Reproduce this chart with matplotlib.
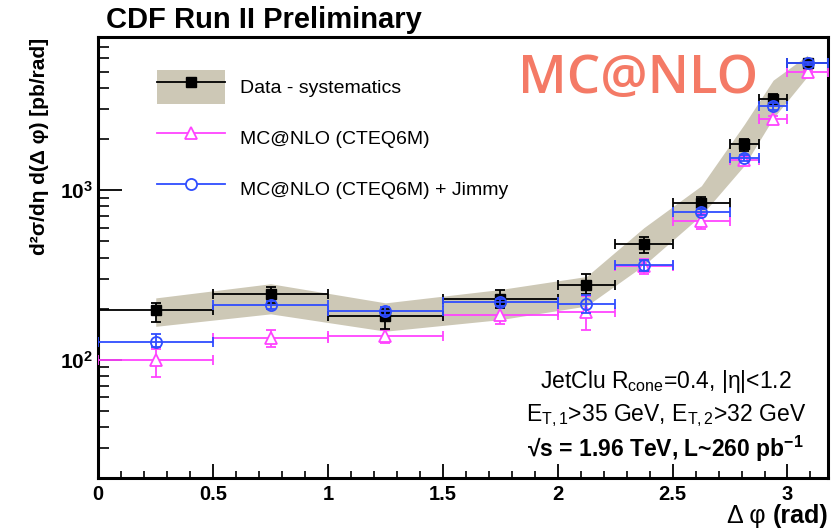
import numpy as np
import matplotlib
matplotlib.use("Agg")
import matplotlib.pyplot as plt
from matplotlib.patches import Patch
from matplotlib.lines import Line2D
from matplotlib.legend_handler import HandlerTuple
from matplotlib.ticker import FixedLocator, MultipleLocator, NullFormatter

plt.rcParams['font.family'] = ['Liberation Sans', 'DejaVu Sans']
plt.rcParams['mathtext.fontset'] = 'custom'
plt.rcParams['mathtext.rm'] = 'Liberation Sans'
plt.rcParams['mathtext.it'] = 'Liberation Sans:italic'
plt.rcParams['mathtext.bf'] = 'Liberation Sans:bold'
plt.rcParams['mathtext.sf'] = 'Liberation Sans'

# ---- data ----
bin_lo = [0.0, 0.5, 1.0, 1.5, 2.0, 2.25, 2.5, 2.75, 2.875, 3.0]
bin_hi = [0.5, 1.0, 1.5, 2.0, 2.25, 2.5, 2.75, 2.875, 3.0, 3.175]

data_y = [197, 242, 180, 229, 277, 482, 843, 1880, 3467, 5585]
data_err_up = [19, 26, 20, 28, 41, 49, 67, 115, 200, 150]
data_err_dn = [30, 26, 28, 27, 35, 59, 73, 180, 217, 150]
band_lo = [157, 186, 147, 172, 207, 360, 710, 1400, 2650, 4700]
band_hi = [231, 280, 216, 259, 309, 600, 1060, 2450, 4450, 6250]

mc_y = [99, 134, 137, 183, 191, 356, 656, 1496, 2642, 4980]
mc_err_up = [16, 16, 12, 19, 46, 34, 62, 94, 88, 120]
mc_err_dn = [20, 15, 11, 22, 41, 35, 70, 96, 142, 120]

jim_y = [127, 210, 193, 218, 214, 360, 745, 1553, 3133, 5585]
jim_err_up = [14, 11, 11, 10, 25, 28, 31, 60, 150, 130]
jim_err_dn = [8, 10, 11, 10, 25, 28, 35, 60, 150, 130]

x_ticks = [0, 0.5, 1, 1.5, 2, 2.5, 3]
x_tick_labels = ['0', '0.5', '1', '1.5', '2', '2.5', '3']
y_ticks = [100, 1000]
y_tick_labels = [r'10$^{\mathbf{2}}$', r'10$^{\mathbf{3}}$']

# ---- derived ----
lo = np.array(bin_lo); hi = np.array(bin_hi)
xc = (lo + hi) / 2.0
xerr = (hi - lo) / 2.0

pink = '#FF44FF'
blue = '#2F4DFF'
band_col = '#CDC8B6'

fig = plt.figure(figsize=(8.35, 5.29), dpi=100)
ax = fig.add_axes([98.3/835, 1-478/529, (827.7-98.3)/835, (478-37)/529])

ax.fill_between(xc, band_lo, band_hi, color=band_col, lw=0, zorder=1)

ax.errorbar(xc, mc_y, xerr=xerr, yerr=[mc_err_dn, mc_err_up], fmt='^',
            color=pink, mfc='white', mec=pink, ms=8, mew=1.3,
            elinewidth=1.3, capsize=3.5, capthick=1.3, zorder=3)
ax.errorbar(xc, data_y, xerr=xerr, yerr=[data_err_dn, data_err_up], fmt='s',
            color='black', ms=7, elinewidth=1.3, capsize=3.5, capthick=1.3, zorder=4)
ax.errorbar(xc, jim_y, xerr=xerr, yerr=[jim_err_dn, jim_err_up], fmt='o',
            color=blue, mfc='none', mec=blue, ms=8, mew=1.3,
            elinewidth=1.3, capsize=3.5, capthick=1.3, zorder=5)

ax.set_yscale('log')
ax.set_xlim(0, 3.175)
ax.set_ylim(20, 8000)

ax.xaxis.set_major_locator(FixedLocator(x_ticks))
ax.set_xticklabels(x_tick_labels, fontsize=14.5, fontweight='bold')
ax.xaxis.set_minor_locator(MultipleLocator(0.1))
ax.yaxis.set_major_locator(FixedLocator(y_ticks))
ax.set_yticklabels(y_tick_labels, fontsize=15, fontweight='bold')
ax.yaxis.set_minor_locator(FixedLocator([m * 10**e for e in (1, 2, 3) for m in range(2, 10)]))
ax.yaxis.set_minor_formatter(NullFormatter())

ax.tick_params(axis='both', which='both', direction='in', top=False, right=False)
ax.tick_params(axis='x', which='major', length=10, width=1.3, pad=5)
ax.tick_params(axis='x', which='minor', length=5, width=1.2)
ax.tick_params(axis='y', which='major', length=17, width=1.3, pad=4)
ax.tick_params(axis='y', which='minor', length=8, width=1.2)
for s in ax.spines.values():
    s.set_linewidth(2.2)

# legend
h_data = (Patch(facecolor=band_col, edgecolor='none'),
          Line2D([], [], color='black', marker='s', ms=7, lw=1.3))
h_mc = Line2D([], [], color=pink, marker='^', ms=8, mfc='white', mec=pink, mew=1.3, lw=1.3)
h_jim = Line2D([], [], color=blue, marker='o', ms=8, mfc='white', mec=blue, mew=1.3, lw=1.3)
fig.legend([h_data, h_mc, h_jim],
           ['Data - systematics', 'MC@NLO (CTEQ6M)', 'MC@NLO (CTEQ6M) + Jimmy'],
           handler_map={tuple: HandlerTuple(ndivide=1)},
           loc='upper left', bbox_to_anchor=(157/835, 1-70/529),
           frameon=False, fontsize=14, handlelength=3.5, handleheight=2.314,
           labelspacing=0.875, handletextpad=0.77, borderpad=0, borderaxespad=0)

# texts
fig.text(106/835, 1-28/529, 'CDF Run II Preliminary', fontsize=21,
         fontweight='bold', ha='left', va='baseline')
fig.text(518/835, 1-93/529, 'MC@NLO', fontsize=38, color='#F47A66',
         family=['Open Sans', 'DejaVu Sans'], fontweight='semibold',
         ha='left', va='baseline')
fig.text(40/835, 1-38/529, 'd²σ/dη d(Δ φ) [pb/rad]', fontsize=15,
         fontweight='bold', rotation=90, ha='center', va='top')

t_rad = fig.text(828/835, 1-523/529, '(rad)', fontsize=18, fontweight='bold',
                 ha='right', va='baseline')
ax.annotate('Δ φ ', xy=(0, 0), xycoords=t_rad, fontsize=18, ha='right', va='bottom',
            annotation_clip=False)

ax.text(0.778, 0.204, r'JetClu R$_{\mathrm{cone}}$=0.4, |η|<1.2', transform=ax.transAxes,
        fontsize=16.5, ha='center', va='baseline')
ax.text(0.778, 0.128, r'E$_{\mathrm{T,1}}$>35 GeV, E$_{\mathrm{T,2}}$>32 GeV', transform=ax.transAxes,
        fontsize=16.5, ha='center', va='baseline')
ax.text(0.778, 0.048, r'√s = 1.96 TeV, L~260 pb$^{\mathbf{-1}}$', transform=ax.transAxes,
        fontsize=16.5, fontweight='bold', ha='center', va='baseline')

fig.savefig('out.png', dpi=100)
